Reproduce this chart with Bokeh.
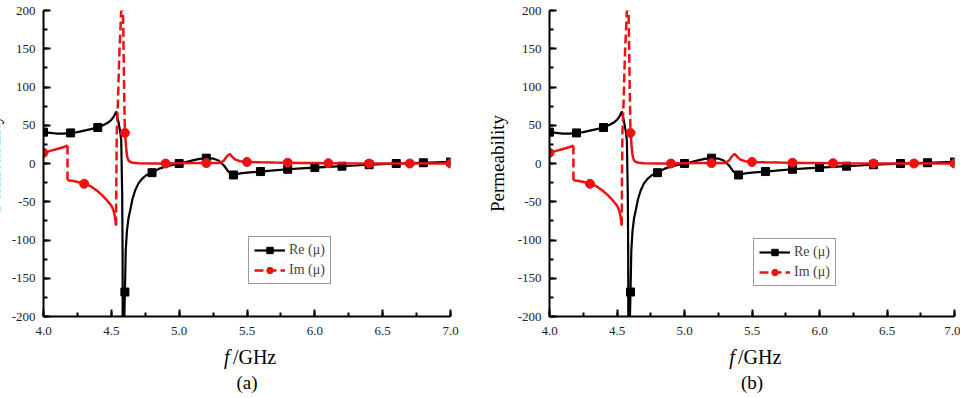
from bokeh.plotting import figure
from bokeh.layouts import row, column
from bokeh.models import (Range1d, SingleIntervalTicker, NumeralTickFormatter,
                          Legend, LegendItem)
from bokeh.core.properties import value
from bokeh.embed import file_html
from bokeh.resources import INLINE

SERIF = "Liberation Serif"

# ---- Re(mu): continuous curve and its marker points ----
re_f = [4.00, 4.05, 4.10, 4.15, 4.20, 4.25, 4.30, 4.35, 4.40, 4.45, 4.48, 4.50,
        4.52, 4.537, 4.545, 4.553, 4.565, 4.573, 4.580, 4.583, 4.584, 4.594,
        4.600, 4.606, 4.615, 4.626, 4.639, 4.655, 4.676, 4.700, 4.726, 4.760,
        4.80, 4.85, 4.90, 4.95, 5.00, 5.05, 5.10, 5.15, 5.20, 5.25, 5.29, 5.33,
        5.364, 5.40, 5.45, 5.50, 5.60, 5.70, 5.80, 5.90, 6.00, 6.10, 6.20, 6.30,
        6.40, 6.50, 6.60, 6.70, 6.80, 6.90, 7.00]
re_mu = [41, 40, 39, 39, 40, 41, 43, 45, 47, 51, 54, 57,
         62, 68, 60, 54, 42, 30, -40, -120, -260, -215,
         -168, -114, -88, -72, -61, -47, -35, -26, -20, -15,
         -12, -7, -4, -2, 0, 2, 4, 6, 7, 6.5, 4, -2.6,
         -11, -15, -13, -12, -10.5, -9, -7.5, -6.3, -5.3, -4.4, -3.5, -2.6,
         -1.6, -0.8, 0, 0.5, 1, 1.5, 2]
re_mark_f = [4.0, 4.2, 4.4, 4.6, 4.8, 5.0, 5.2, 5.4, 5.6, 5.8, 6.0, 6.2, 6.4, 6.6, 6.8, 7.0]
re_mark_mu = [41, 40, 47, -168, -12, 0, 7, -15, -10.5, -7.5, -5.3, -3.5, -1.6, 0, 1, 2]

# ---- Im(mu): solid stretches (NaN separates pieces) ----
im_solid_f = [4.00, 4.05, 4.10, 4.15, 4.177, float("nan"),
              4.177, 4.22, 4.26, 4.30, 4.35, 4.39, 4.43, 4.467, 4.50, 4.516, 4.527, 4.535,
              float("nan"),
              4.600, 4.604, 4.607, 4.612, 4.618, 4.627, 4.64, 4.66, 4.70, 4.80, 4.90,
              5.00, 5.10, 5.20, 5.27, 5.30, 5.33, 5.35, 5.372, 5.39, 5.414, 5.45, 5.50,
              5.60, 5.70, 5.80, 5.90, 6.00, 6.10, 6.20, 6.40, 6.70, 7.00]
im_solid_mu = [14, 16.5, 19, 21.5, 23.5, float("nan"),
               -22, -23, -24.5, -26.5, -30, -35, -41, -48, -55, -61, -70, -81,
               float("nan"),
               40, 32, 25, 15, 8, 4, 2, 1, 0.3, 0, 0,
               0.3, 0.5, 0.5, 0.5, 0.5, 4, 9, 12.5, 9, 5, 3, 2,
               1.5, 1.2, 1, 0.8, 0.6, 0.4, 0.2, 0, 0, 0]

# ---- Im(mu): dashed jumps (step at 4.177 and the resonance spike) ----
im_dash_f = [4.177, 4.177, float("nan"),
             4.535, 4.537, 4.540, 4.545, 4.549, 4.555, 4.560, 4.567, 4.573, 4.579,
             4.585, 4.588, 4.594, 4.600]
im_dash_mu = [23.5, -22, float("nan"),
              -81, -20, 40, 62, 82, 120, 148, 175, 200, 235,
              205, 180, 100, 40]
im_mark_f = [4.0, 4.3, 4.6, 4.9, 5.2, 5.5, 5.8, 6.1, 6.4, 6.7, 7.0]
im_mark_mu = [14, -26.5, 40, 0, 0.5, 2, 1, 0.4, 0, 0, 0]

x_ticks_interval = 0.5
y_ticks_interval = 50
legend_labels = ["Re (\u03bc)", "Im (\u03bc)"]
y_title = "Permeability"
x_title_var = "f"
x_title_unit = "/GHz"

BLACK = "#000000"
RED = "#ee1111"

MAIN_H = 338
CAPTION_H = 60


def panel(tag, width, left, right, legend_xy, shift, label_standoff):
    p = figure(width=width, height=MAIN_H, output_backend="svg", toolbar_location=None,
               x_range=Range1d(4.0, 7.0), y_range=Range1d(-200, 200),
               min_border_left=left, min_border_right=right,
               min_border_top=10, min_border_bottom=MAIN_H - 316)
    p.outline_line_color = None
    p.grid.visible = False

    for ax in (p.xaxis[0], p.yaxis[0]):
        ax.axis_line_width = 2
        ax.axis_line_color = BLACK
        ax.major_tick_in = 7
        ax.major_tick_out = 0
        ax.minor_tick_in = 4
        ax.minor_tick_out = 0
        ax.major_tick_line_width = 2
        ax.minor_tick_line_width = 2
        ax.major_tick_line_color = BLACK
        ax.minor_tick_line_color = BLACK
        ax.major_label_text_font = SERIF
        ax.major_label_text_font_size = "13px"
        ax.major_label_text_color = "#222222"
    p.xaxis.ticker = SingleIntervalTicker(interval=x_ticks_interval, num_minor_ticks=2)
    p.yaxis.ticker = SingleIntervalTicker(interval=y_ticks_interval, num_minor_ticks=2)
    p.xaxis.formatter = NumeralTickFormatter(format="0.0")
    p.yaxis.formatter = NumeralTickFormatter(format="0")
    p.xaxis.major_label_standoff = 10
    p.yaxis.major_label_standoff = 8

    p.yaxis.axis_label = y_title
    p.yaxis.axis_label_text_font = SERIF
    p.yaxis.axis_label_text_font_style = "normal"
    p.yaxis.axis_label_text_font_size = "19px"
    p.yaxis.axis_label_text_color = BLACK
    p.yaxis.axis_label_standoff = label_standoff

    # Re(mu)
    re_line = p.line(re_f, re_mu, line_color=BLACK, line_width=2.2)
    re_pts = p.scatter(re_mark_f, re_mark_mu, marker="square", size=8,
                       fill_color=BLACK, line_color=BLACK)
    # Im(mu)
    p.line(im_solid_f, im_solid_mu, line_color=RED, line_width=2.5)
    im_dash = p.line(im_dash_f, im_dash_mu, line_color=RED, line_width=2.5,
                     line_dash="9 4")
    im_pts = p.scatter(im_mark_f, im_mark_mu, marker="circle", size=9,
                       fill_color=RED, line_color=RED)

    legend = Legend(items=[LegendItem(label=legend_labels[0], renderers=[re_line, re_pts]),
                           LegendItem(label=legend_labels[1], renderers=[im_dash, im_pts])],
                    location=legend_xy)
    legend.border_line_color = "#333333"
    legend.border_line_width = 1
    legend.background_fill_color = "white"
    legend.background_fill_alpha = 1
    legend.label_text_font = SERIF
    legend.label_text_font_size = "14px"
    legend.glyph_width = 31
    legend.glyph_height = 16
    legend.label_height = 16
    legend.label_standoff = 4
    legend.spacing = 4
    legend.padding = 5
    legend.margin = 0
    p.add_layout(legend)

    # caption strip under the plot: x-axis title and panel tag
    c = figure(width=width, height=CAPTION_H, output_backend="svg", toolbar_location=None,
               x_range=p.x_range, y_range=Range1d(0, CAPTION_H),
               x_axis_type=None, y_axis_type=None,
               min_border_left=left, min_border_right=right,
               min_border_top=0, min_border_bottom=0)
    c.outline_line_color = None
    c.grid.visible = False
    c.text(x=[5.372], y=[CAPTION_H - 18], text=[x_title_var], text_align="right",
           text_baseline="alphabetic", text_font=value(SERIF), text_font_style="italic",
           text_font_size="20px", text_color=BLACK)
    c.text(x=[5.396], y=[CAPTION_H - 18], text=[x_title_unit], text_align="left",
           text_baseline="alphabetic", text_font=value(SERIF),
           text_font_size="20px", text_color=BLACK)
    c.text(x=[5.5], y=[CAPTION_H - 44], text=[tag], text_align="center",
           text_baseline="alphabetic", text_font=value(SERIF),
           text_font_size="19px", text_color=BLACK)

    return column(p, c, margin=(0, 0, 0, -shift))


SHIFT_A = 26
pa = panel("(a)", 480 + SHIFT_A, 69, 30, (205, 32), SHIFT_A, 5)
pb = panel("(b)", 480, 69, 6, (204, 30), 0, 7)

layout = row(pa, pb)
open("out.html", "w").write(file_html(layout, INLINE))
